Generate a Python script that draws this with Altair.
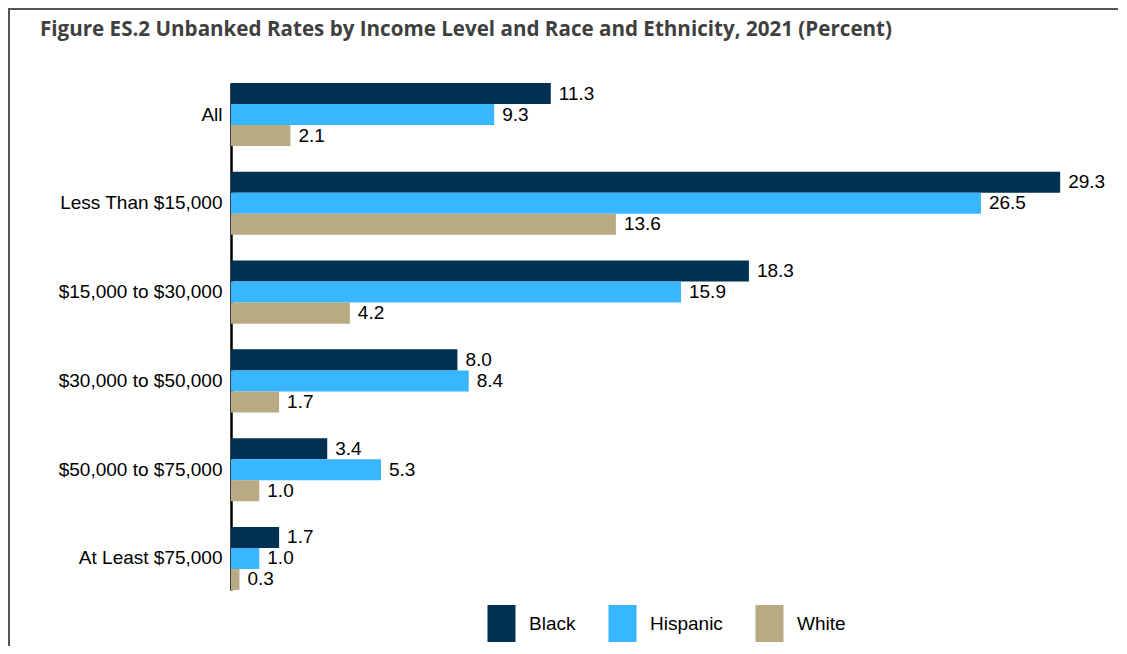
import altair as alt
import pandas as pd

categories = ["All", "Less Than $15,000", "$15,000 to $30,000", "$30,000 to $50,000",
              "$50,000 to $75,000", "At Least $75,000"]
groups = ["Black", "Hispanic", "White"]
black = [11.3, 29.3, 18.3, 8.0, 3.4, 1.7]
hispanic = [9.3, 26.5, 15.9, 8.4, 5.3, 1.0]
white = [2.1, 13.6, 4.2, 1.7, 1.0, 0.3]
colors = ["#003153", "#38b6ff", "#b8aa82"]

rows = []
for i, c in enumerate(categories):
    for g, vals in zip(groups, [black, hispanic, white]):
        rows.append({"category": c, "group": g, "value": vals[i]})
df = pd.DataFrame(rows)

FONT = "Liberation Sans"
FS = 19

y = alt.Y("category:N", sort=categories,
          scale=alt.Scale(paddingInner=0.29, paddingOuter=0),
          axis=alt.Axis(title=None, ticks=False, labelFontSize=FS, labelFont=FONT,
                        labelColor="#000000", labelPadding=9, domainColor="#000000",
                        domainWidth=2.5, labelLimit=300))
yoff = alt.YOffset("group:N", sort=groups)
x = alt.X("value:Q", scale=alt.Scale(domain=[0, 30], nice=False), axis=None)

bars = alt.Chart(df).mark_bar().encode(
    y=y, yOffset=yoff, x=x,
    color=alt.Color("group:N", sort=groups,
                    scale=alt.Scale(domain=groups, range=colors),
                    legend=alt.Legend(
                        title=None, orient="none", direction="horizontal",
                        legendX=252, legendY=522,
                        symbolType="M-0.757,-1H0.757V1H-0.757Z", symbolSize=1369,
                        symbolStrokeWidth=0, labelFontSize=FS, labelFont=FONT,
                        labelColor="#000000", labelOffset=9, columnPadding=28)),
)

labels = alt.Chart(df).mark_text(align="left", baseline="middle", dx=8,
                                 fontSize=FS, font=FONT, color="#000000").encode(
    y=y, yOffset=yoff, x=x, text=alt.Text("value:Q", format=".1f"))

frame_top = alt.Chart(df).mark_rule(color="#555555", strokeWidth=1.5, clip=False).encode(
    x=alt.value(-222.5), x2=alt.value(887), y=alt.value(-74.5))
frame_left = alt.Chart(df).mark_rule(color="#555555", strokeWidth=1.5, clip=False).encode(
    x=alt.value(-222.5), y=alt.value(-74.5), y2=alt.value(563))

chart = alt.layer(frame_top, frame_left, bars, labels).properties(
    width=849, height=507,
    autosize=alt.AutoSizeParams(type="none"),
    padding={"left": 223, "top": 75, "right": 38, "bottom": 56},
    title=alt.TitleParams(
        "Figure ES.2 Unbanked Rates by Income Level and Race and Ethnicity, 2021 (Percent)",
        anchor="start", frame="group", dx=-191, offset=0, dy=49, baseline="alphabetic",
        font="Open Sans", fontSize=20.6, fontWeight="bold", color="#3f3f3f"),
).configure_view(stroke=None)

chart.save("out.html", embed_options={"renderer": "svg", "actions": False})
